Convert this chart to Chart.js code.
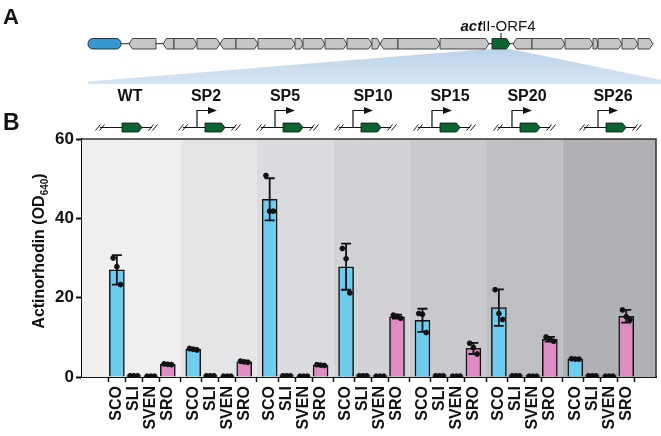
<!DOCTYPE html>
<html>
<head>
<meta charset="utf-8">
<script src="https://cdn.jsdelivr.net/npm/chart.js@4/dist/chart.umd.min.js"></script>
<style>
  body { margin: 0; background: #fff; font-family: "Liberation Sans", Arial, sans-serif; }
  #wrap { position: relative; width: 661px; height: 436px; overflow: hidden; }
  #chart { position: absolute; left: 0; top: 0; }
  #art { position: absolute; left: 0; top: 0; pointer-events: none; }
  #ytitle {
    position: absolute; left: 40px; top: 251px; white-space: nowrap;
    transform: translate(-50%, -50%) rotate(-90deg);
    font-weight: bold; font-size: 16px; color: #111;
  }
  #ytitle sub { font-size: 10px; }
</style>
</head>
<body>
<div id="wrap">
  <canvas id="chart" width="661" height="436"></canvas>
  <svg id="art" width="661" height="436"></svg>
  <div id="ytitle">Actinorhodin (OD<sub>640</sub>)</div>
</div>
<script>
/* ========== data ========== */
const groups = ["WT", "SP2", "SP5", "SP10", "SP15", "SP20", "SP26"];
const strains = ["SCO", "SLI", "SVEN", "SRO"];

// bar heights (mean)
const sco  = [27.0, 7.0, 44.8, 27.8, 14.3, 17.5, 4.5];
const sli  = [0.3, 0.3, 0.3, 0.3, 0.3, 0.3, 0.3];
const sven = [0.2, 0.2, 0.2, 0.3, 0.2, 0.3, 0.3];
const sro  = [3.2, 3.8, 3.0, 15.2, 7.2, 9.5, 15.3];

// error bars (SD)
const scoSd  = [3.7, 0.3, 5.3, 5.8, 2.9, 4.6, 0.2];
const sliSd  = [0.05, 0.05, 0.05, 0.05, 0.05, 0.05, 0.05];
const svenSd = [0.05, 0.05, 0.05, 0.05, 0.05, 0.05, 0.05];
const sroSd  = [0.2, 0.3, 0.2, 0.5, 1.4, 0.6, 1.6];

// individual replicates
const scoReps = [[30.0, 27.8, 23.3], [7.2, 7.0, 6.8], [50.8, 41.8, 41.8], [32.4, 29.8, 21.2],
                 [16.0, 15.8, 11.2], [22.0, 16.0, 14.5], [4.6, 4.5, 4.5]];
const sliReps  = groups.map(() => [0.3, 0.3, 0.3]);
const svenReps = groups.map(() => [0.2, 0.2, 0.2]);
const sroReps = [[3.3, 3.2, 3.1], [4.0, 3.8, 3.7], [3.1, 3.0, 2.9], [15.6, 15.3, 14.8],
                 [8.5, 7.4, 5.8], [10.1, 9.6, 9.0], [16.9, 15.2, 14.4]];

const yTicks = [0, 20, 40, 60];

const means = [sco, sli, sven, sro];
const sds = [scoSd, sliSd, svenSd, sroSd];
const reps = [scoReps, sliReps, svenReps, sroReps];

/* ========== layout helpers ========== */
const STEP = 4.5;                       // x units per group (4 bars + gap)
const posOf = (g, i) => g * STEP + i;   // x position of a bar
const colors = ["#6ccdee", "#6ccdee", "#6ccdee", "#df8cc2"];
const bandColors = ["#efeff0", "#e4e5e7", "#dbdcdf", "#d2d3d6", "#c9cacd", "#bebfc2", "#b0b1b4"];
const FONT = "'Liberation Sans', Arial, sans-serif";

const tickPos = [];
const tickLab = [];
groups.forEach((g, gi) => strains.forEach((s, si) => {
  tickPos.push(posOf(gi, si));
  tickLab.push(s);
}));

const barSets = strains.map((s, si) => ({
  type: "bar",
  label: s,
  data: groups.map((g, gi) => ({ x: posOf(gi, si), y: means[si][gi] })),
  backgroundColor: colors[si],
  borderColor: "#111",
  borderWidth: 1.5,
  barThickness: 15,
  grouped: false,
  order: 2
}));

const jitter = [-0.22, 0, 0.22];
const dotData = [];
strains.forEach((s, si) => groups.forEach((g, gi) => {
  reps[si][gi].forEach((v, k) => dotData.push({ x: posOf(gi, si) + jitter[k], y: v }));
}));

const dotSet = {
  type: "scatter",
  label: "replicates",
  data: dotData,
  backgroundColor: "#111",
  borderColor: "#111",
  pointRadius: 2.4,
  order: 0
};

/* ========== plugins ========== */
const bands = {
  id: "bands",
  beforeDatasetsDraw(chart) {
    const { ctx, chartArea: a, scales: { x } } = chart;
    ctx.save();
    groups.forEach((g, gi) => {
      let x0 = gi === 0 ? a.left : x.getPixelForValue(posOf(gi, 0) - 0.75);
      let x1 = gi === groups.length - 1 ? a.right : x.getPixelForValue(posOf(gi, 3) + 0.75);
      ctx.fillStyle = bandColors[gi];
      ctx.fillRect(x0, a.top, x1 - x0, a.bottom - a.top);
    });
    ctx.restore();
  }
};

const errorBars = {
  id: "errorBars",
  afterDatasetsDraw(chart) {
    const { ctx, scales: { x, y } } = chart;
    ctx.save();
    ctx.strokeStyle = "#111";
    ctx.lineWidth = 1.8;
    strains.forEach((s, si) => groups.forEach((g, gi) => {
      const m = means[si][gi], sd = sds[si][gi];
      if (sd < 0.1) return;
      const px = x.getPixelForValue(posOf(gi, si));
      const top = y.getPixelForValue(m + sd);
      const bot = y.getPixelForValue(m - sd);
      ctx.beginPath();
      ctx.moveTo(px, top); ctx.lineTo(px, bot);
      ctx.moveTo(px - 5, top); ctx.lineTo(px + 5, top);
      ctx.moveTo(px - 5, bot); ctx.lineTo(px + 5, bot);
      ctx.stroke();
    }));
    ctx.restore();
  }
};

const frame = {
  id: "frame",
  afterDraw(chart) {
    const { ctx, chartArea: a } = chart;
    ctx.save();
    ctx.strokeStyle = "#333";
    ctx.lineWidth = 1.5;
    ctx.beginPath();
    ctx.moveTo(a.left, a.top); ctx.lineTo(a.right, a.top); ctx.lineTo(a.right, a.bottom);
    ctx.stroke();
    ctx.restore();
  }
};

/* ========== chart ========== */
new Chart(document.getElementById("chart"), {
  data: { datasets: [dotSet, ...barSets] },
  options: {
    responsive: false,
    animation: false,
    layout: { padding: { top: 139, right: 3, left: 0, bottom: 0 } },
    plugins: { legend: { display: false }, tooltip: { enabled: false } },
    scales: {
      x: {
        type: "linear",
        min: -1.45,
        max: 31.15,
        afterBuildTicks: s => { s.ticks = tickPos.map(v => ({ value: v })); },
        afterFit: s => { s.height = 59; },
        grid: { drawOnChartArea: false, drawTicks: true, tickLength: 5, tickWidth: 1.5, tickColor: "#111" },
        border: { display: true, color: "#111", width: 2 },
        ticks: {
          autoSkip: false,
          minRotation: 90,
          maxRotation: 90,
          padding: 4,
          color: "#111",
          font: { family: FONT, size: 16, weight: "bold" },
          callback: (v, i) => tickLab[i]
        }
      },
      y: {
        min: 0,
        max: 60,
        afterBuildTicks: s => { s.ticks = yTicks.map(v => ({ value: v })); },
        afterFit: s => { s.width = 82; },
        grid: { drawOnChartArea: false, drawTicks: true, tickLength: 6, tickWidth: 2, tickColor: "#111" },
        border: { display: true, color: "#111", width: 2 },
        ticks: {
          padding: 2,
          color: "#111",
          font: { family: FONT, size: 17, weight: "bold" }
        }
      }
    }
  },
  plugins: [bands, errorBars, frame]
});

/* ========== panel A + promoter sketches (svg) ========== */
const genes = [
  [129, 156, "L"], [163, 174, "L"], [174, 197, "R"], [197, 220, "R"], [220, 236, "L"],
  [236, 258, "R"], [258, 295, "R"], [295, 303, "R"], [303, 325, "R"], [325, 347, "R"],
  [347, 372, "R"], [372, 380, "R"], [380, 398, "L"], [398, 440, "R"], [440, 489, "R"],
  [513, 532, "L"], [532, 565, "R"], [565, 593, "R"], [593, 598, "R"], [598, 622, "R"],
  [622, 638, "R"], [638, 653, "R"]
];

function genePath(x0, x1, y0, y1, dir) {
  const yc = (y0 + y1) / 2, t = Math.min(3.5, (x1 - x0) / 3);
  if (dir === "R") return `M${x0},${y0} L${x1 - t},${y0} L${x1},${yc} L${x1 - t},${y1} L${x0},${y1} Z`;
  return `M${x0 + t},${y0} L${x1},${y0} L${x1},${y1} L${x0 + t},${y1} L${x0},${yc} Z`;
}

function slashes(cx, y) {
  let s = "";
  [-2, 2].forEach(k => {
    s += `<line x1="${cx + k - 2.5}" y1="${y + 3}" x2="${cx + k + 2.5}" y2="${y - 3}" stroke="#111" stroke-width="1"/>`;
  });
  return s;
}

function diagram(p, boxX, y, promoter) {
  let s = `<line x1="${boxX - 22}" y1="${y}" x2="${boxX + 30}" y2="${y}" stroke="#111" stroke-width="1"/>`;
  s += slashes(boxX - 22, y) + slashes(boxX + 31, y);
  s += `<path d="${genePath(boxX, boxX + 20, y - 4.5, y + 4.5, "R")}" fill="#0b6332" stroke="#111" stroke-width="0.8"/>`;
  if (promoter) {
    s += `<polyline points="${p},${y} ${p},${y - 17} ${p + 11},${y - 17}" fill="none" stroke="#111" stroke-width="1.2"/>`;
    s += `<polygon points="${p + 11},${y - 20.5} ${p + 20},${y - 17} ${p + 11},${y - 13.5}" fill="#111"/>`;
  }
  return s;
}

const labelX = [130, 206, 285, 373, 450, 527, 613];
const promoterX = [null, 197, 275, 353, 432, 512, 598];

let svg = "";
svg += `<defs><linearGradient id="fan" x1="0" y1="0" x2="0" y2="1">
  <stop offset="0" stop-color="#bcd3ea"/><stop offset="1" stop-color="#d6e4f2"/></linearGradient></defs>`;
svg += `<polygon points="489,49 510,49 661,80 661,84 88,84 88,81.5" fill="url(#fan)"/>`;
svg += `<text x="3" y="24" font-family="${FONT}" font-size="22" font-weight="bold" fill="#111">A</text>`;
svg += `<text x="3" y="130" font-family="${FONT}" font-size="23" font-weight="bold" fill="#111">B</text>`;
svg += `<line x1="110" y1="43.7" x2="650" y2="43.7" stroke="#222" stroke-width="1"/>`;
svg += `<rect x="88" y="38.5" width="33" height="10.5" rx="5" fill="#3797d2" stroke="#222" stroke-width="0.9"/>`;
genes.forEach(([a, b, d]) => {
  svg += `<path d="${genePath(a, b, 38.5, 49, d)}" fill="#c5c6c8" stroke="#333" stroke-width="0.9"/>`;
});
svg += `<path d="${genePath(492, 510, 38.5, 49, "R")}" fill="#0b6332" stroke="#222" stroke-width="0.9"/>`;
svg += `<line x1="501" y1="33" x2="501" y2="38.5" stroke="#111" stroke-width="1"/>`;
svg += `<text x="498" y="31" text-anchor="middle" font-family="${FONT}" font-size="15" fill="#111"><tspan font-style="italic" font-weight="bold">act</tspan>II-ORF4</text>`;

groups.forEach((g, gi) => {
  svg += `<text x="${labelX[gi]}" y="101" text-anchor="middle" font-family="${FONT}" font-size="16" font-weight="bold" fill="#111">${g}</text>`;
  if (gi === 0) svg += diagram(null, 122, 127.5, false);
  else svg += diagram(promoterX[gi], promoterX[gi] + 8, 127.5, true);
});

document.getElementById("art").innerHTML = svg;
</script>
</body>
</html>
